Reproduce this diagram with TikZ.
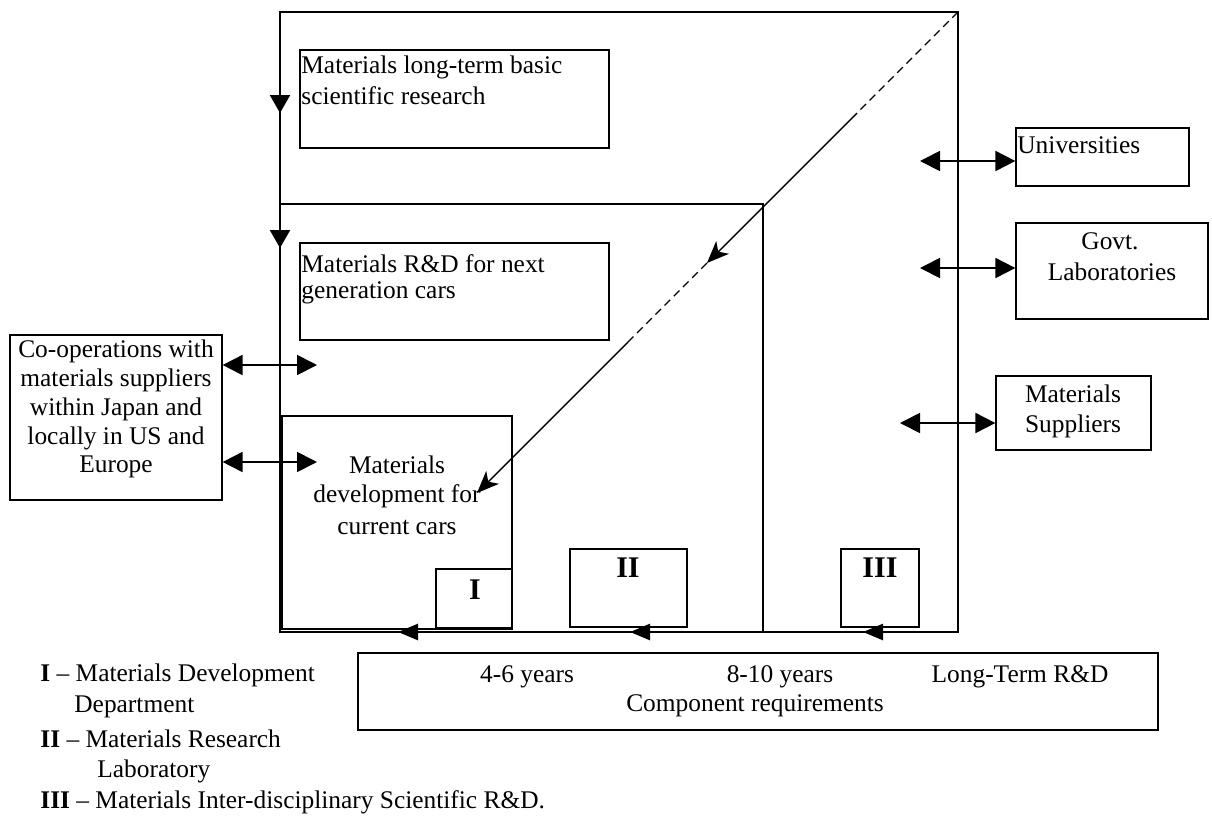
\documentclass[tikz,border=0pt]{standalone}
\usepackage{fontspec}
\setmainfont{Liberation Serif}
\usetikzlibrary{arrows.meta}
\begin{document}
\begin{tikzpicture}[x=0.5pt,y=-0.5pt,
  frame/.style={line width=1.2pt},
  box/.style={draw, line width=0.6pt, inner sep=0pt},
  heavybox/.style={draw, line width=1.1pt, inner sep=0pt},
  txt/.style={inner sep=0pt, font=\fontsize{12.7}{14.5}\selectfont},
  roman/.style={inner sep=0pt, font=\fontsize{15}{18}\selectfont\bfseries},
  tri/.style={-{Triangle[length=9pt,width=10pt]}},
  back/.style={line width=1.3pt, -{Triangle[length=10pt,width=8pt]}},
  dbl/.style={line width=0.9pt, {Triangle[length=10pt,width=10pt]}-{Triangle[length=10pt,width=10pt]}},
  diag/.style={line width=0.7pt, -{Stealth[length=11pt,width=9pt,inset=3pt]}},
  dsh/.style={line width=0.6pt, dash pattern=on 4pt off 2.5pt},
]
\useasboundingbox (0,0) rectangle (1212,816);

% outer frame and the inner step
\coordinate (TL) at (280,12);
\coordinate (TR) at (958,12);
\coordinate (BR) at (958,632);
\coordinate (BL) at (280,632);
\coordinate (ML) at (280,204);
\coordinate (M)  at (763,204);
\coordinate (MB) at (763,632);
\draw[frame] (TL) -- (TR) -- (BR) -- (BL) -- cycle;
\draw[frame] (ML) -- (M) -- (MB);
\draw[frame, tri] (TL) -- (280,113);
\draw[frame, tri] (ML) -- (280,248);

% research boxes
\node[box, minimum width=154.5pt, minimum height=49pt] (lt) at (454.5,99) {};
\node[txt, anchor=west] (ltA) at (301,67) {Materials long-term basic};
\node[txt, anchor=west] (ltB) at (301,96) {scientific research};

\node[box, minimum width=154.5pt, minimum height=48.5pt] (ng) at (454.5,291.5) {};
\node[txt, anchor=west] (ngA) at (301,264) {Materials R\&D for next};
\node[txt, anchor=west] (ngB) at (301,293) {generation cars};

\node[heavybox, minimum width=115pt, minimum height=106.5pt] (cur) at (397,522.5) {};
\node[txt] (curA) at (397,465) {Materials};
\node[txt] (curB) at (397,496) {development for};
\node[txt] (curC) at (397,527) {current cars};

% department boxes
\node[box, line width=0.8pt, minimum width=38pt, minimum height=29.5pt] (bI) at (474,598.5) {};
\node[roman] (lI) at (475,590) {I};
\node[box, minimum width=58.5pt, minimum height=39pt] (bII) at (628.5,588) {};
\node[roman] (lII) at (628,568) {II};
\node[box, minimum width=39pt, minimum height=39pt] (bIII) at (880,588) {};
\node[roman] (lIII) at (880,568) {III};

% arrows along the bottom edge
\coordinate (a1) at (475,632);
\coordinate (a2) at (707,632);
\coordinate (a3) at (940,632);
\draw[back] (a1) -- (398,632);
\draw[back] (a2) -- (630,632);
\draw[back] (a3) -- (863,632);

% diagonal from the top corner
\coordinate (d1) at (857,113);
\coordinate (d2) at (707,263);
\coordinate (d3) at (628,342);
\coordinate (d4) at (477,493);
\draw[dsh] (TR) -- (d1);
\draw[diag] (d1) -- (d2);
\draw[dsh] (d2) -- (d3);
\draw[diag] (d3) -- (d4);

% co-operation partner on the left
\node[box, minimum width=106pt, minimum height=82.5pt] (coop) at (116,417.5) {};
\node[txt] (c1) at (116,351) {Co-operations with};
\node[txt] (c2) at (116,380) {materials suppliers};
\node[txt] (c3) at (116,409) {within Japan and};
\node[txt] (c4) at (116,438) {locally in US and};
\node[txt] (c5) at (116,467) {Europe};
\coordinate (ca1) at (317,365);
\coordinate (ca2) at (317,462);
\draw[dbl] (ca1 -| coop.east) -- (ca1);
\draw[dbl] (ca2 -| coop.east) -- (ca2);

% external partners on the right
\node[box, minimum width=86.5pt, minimum height=29pt] (uni) at (1102.5,157) {};
\node[txt, anchor=west] (uniT) at (1017,145) {Universities};
\node[box, minimum width=96pt, minimum height=48pt] (gov) at (1112,271) {};
\node[txt] (govA) at (1110,241) {Govt.};
\node[txt] (govB) at (1112,272) {Laboratories};
\node[box, minimum width=77.5pt, minimum height=37pt] (sup) at (1073.5,413) {};
\node[txt] (supA) at (1073,394) {Materials};
\node[txt] (supB) at (1073,426) {Suppliers};
\coordinate (ra1) at (920,161);
\coordinate (ra2) at (920,268);
\coordinate (ra3) at (900,423);
\draw[dbl] (ra1) -- (ra1 -| uni.west);
\draw[dbl] (ra2) -- (ra2 -| gov.west);
\draw[dbl] (ra3) -- (ra3 -| sup.west);

% time scale
\node[box, line width=0.7pt, minimum width=400pt, minimum height=38.5pt] (scale) at (758,691.5) {};
\node[txt] (t1) at (527,677) {4-6 years};
\node[txt] (t2) at (780,677) {8-10 years};
\node[txt] (t3) at (1020,677) {Long-Term R\&D};
\node[txt] (t4) at (755,706) {Component requirements};

% key
\node[txt, anchor=west] (k1) at (40,675) {\textbf{I} -- Materials Development};
\node[txt, anchor=west] (k2) at (74,707) {Department};
\node[txt, anchor=west] (k3) at (40,739) {\textbf{II} -- Materials Research};
\node[txt, anchor=west] (k4) at (97,771) {Laboratory};
\node[txt, anchor=west] (k5) at (40,802) {\textbf{III} -- Materials Inter-disciplinary Scientific R\&D.};
\end{tikzpicture}
\end{document}
